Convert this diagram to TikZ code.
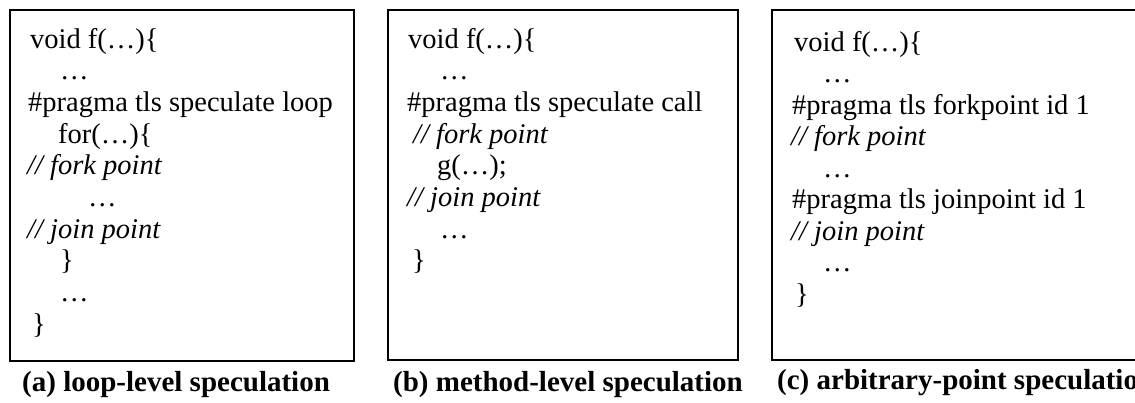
\documentclass[tikz,border=0pt]{standalone}
\usepackage{fontspec}
\setmainfont{Liberation Serif}
\begin{document}
\begin{tikzpicture}[x=1pt,y=-1pt,
  codeline/.style={anchor=base west,inner sep=0pt,font=\fontsize{28.5}{34}\selectfont},
  cmt/.style={codeline,font=\fontsize{28.5}{34}\selectfont\itshape},
  caption/.style={anchor=base west,inner sep=0pt,font=\fontsize{29}{34}\selectfont\bfseries},
  panel/.style={draw,line width=1.2pt}]
\useasboundingbox (0,0) rectangle (1135,402);
% boxes
\draw[panel] (10,10) rectangle (354,361);
\draw[panel] (388,10) rectangle (738,360);
\draw[panel] (1150,10) -- (772,10) -- (772,360) -- (1150,360);
% (a)
\node[codeline] (a1) at (30,48) {void f(…)\{};
\node[codeline] (a2) at (60,79.7) {…};
\node[codeline] (a3) at (28,111.4) {\#pragma tls speculate loop};
\node[codeline] (a4) at (58,143.1) {for(…)\{};
\node[cmt] (a5) at (27,174.8) {// fork point};
\node[codeline] (a6) at (88,206.5) {…};
\node[cmt] (a7) at (27,238.2) {// join point};
\node[codeline] (a8) at (60,269.9) {\}};
\node[codeline] (a9) at (60,301.6) {…};
\node[codeline] (a10) at (32,333.3) {\}};
\node[caption] (capa) at (22,391) {(a) loop-level speculation};
% (b)
\node[codeline] (b1) at (408,48) {void f(…)\{};
\node[codeline] (b2) at (440,79.7) {…};
\node[codeline] (b3) at (407,111.4) {\#pragma tls speculate call};
\node[cmt] (b4) at (413,143.1) {// fork point};
\node[codeline] (b5) at (437,174.8) {g(…);};
\node[cmt] (b6) at (407,206.5) {// join point};
\node[codeline] (b7) at (440,238.2) {…};
\node[codeline] (b8) at (412,269.9) {\}};
\node[caption] (capb) at (393,391) {(b) method-level speculation};
% (c)
\node[codeline] (c1) at (794,51) {void f(…)\{};
\node[codeline] (c2) at (823,82.5) {…};
\node[codeline] (c3) at (792,114) {\#pragma tls forkpoint id 1};
\node[cmt] (c4) at (791,145.5) {// fork point};
\node[codeline] (c5) at (823,177) {…};
\node[codeline] (c6) at (792,208.5) {\#pragma tls joinpoint id 1};
\node[cmt] (c7) at (791,240) {// join point};
\node[codeline] (c8) at (823,271.5) {…};
\node[codeline] (c9) at (795,303) {\}};
\node[caption] (capc) at (777,389) {(c) arbitrary-point speculation};
\end{tikzpicture}
\end{document}
